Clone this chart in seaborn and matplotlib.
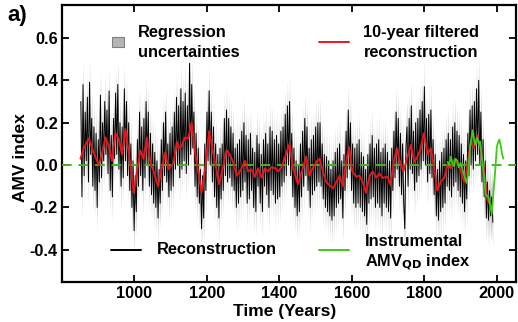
import numpy as np
import pandas as pd
import matplotlib
matplotlib.use("Agg")
import matplotlib.pyplot as plt
from matplotlib.patches import Rectangle
import seaborn as sns

# ========== DATA ==========
# annual reconstruction, read every 3 years (852 .. 1989)
recon_years = list(range(852, 1990, 3))
recon_values = [
    0.30, -0.15, 0.38, -0.05, 0.25, 0.02, 0.32, -0.08, 0.39, 0.05,
    0.22, -0.10, 0.18, -0.12, 0.15, -0.20, 0.12, -0.08, 0.33, -0.06,
    0.20, 0.02, 0.30, 0.05, 0.26, -0.04, 0.35, -0.12, 0.14, -0.15,
    0.22, 0.03, 0.34, 0.05, 0.38, -0.02, 0.20, -0.10, 0.18, -0.06,
    0.36, 0.02, 0.30, -0.05, 0.20, -0.12, 0.10, -0.20, 0.02, -0.31,
    -0.05, -0.22, 0.12, -0.10, 0.25, -0.05, 0.18, -0.12, 0.22, -0.06,
    0.30, 0.00, 0.25, -0.10, 0.15, -0.14, 0.10, -0.18, 0.06, -0.20,
    0.02, -0.25, -0.02, -0.18, 0.12, -0.12, 0.20, -0.05, 0.25, -0.08,
    0.10, -0.15, 0.15, -0.12, 0.18, -0.10, 0.25, -0.02, 0.32, 0.00,
    0.28, -0.06, 0.36, -0.02, 0.30, 0.02, 0.34, -0.04, 0.28, 0.00,
    0.48, 0.05, 0.38, 0.08, 0.25, -0.10, 0.15, -0.15, 0.08, -0.18,
    -0.02, -0.30, -0.05, -0.25, 0.10, -0.12, 0.25, 0.02, 0.35, 0.00,
    0.25, -0.08, 0.18, -0.15, 0.10, -0.20, 0.05, -0.25, 0.08, -0.16,
    0.10, -0.12, 0.22, -0.05, 0.26, -0.08, 0.22, -0.06, 0.18, -0.10,
    0.15, -0.12, 0.08, -0.20, 0.10, -0.18, 0.12, -0.15, 0.16, -0.12,
    0.20, -0.08, 0.14, -0.18, 0.12, -0.16, 0.15, -0.12, 0.08, -0.20,
    0.06, -0.22, 0.14, -0.10, 0.10, -0.18, 0.05, -0.22, 0.12, -0.10,
    0.15, -0.14, 0.10, -0.20, 0.18, -0.12, 0.16, -0.14, 0.12, -0.18,
    0.14, -0.16, 0.10, -0.15, 0.16, -0.10, 0.18, -0.08, 0.24, -0.05,
    0.28, 0.00, 0.30, -0.05, 0.15, -0.15, 0.08, -0.20, 0.02, -0.24,
    0.00, -0.22, 0.10, -0.15, 0.16, -0.10, 0.22, -0.05, 0.18, -0.12,
    0.08, -0.20, 0.12, -0.14, 0.14, -0.12, 0.18, -0.10, 0.20, -0.08,
    0.20, -0.10, 0.10, -0.16, 0.05, -0.20, 0.04, -0.22, 0.02, -0.24,
    -0.02, -0.26, 0.02, -0.24, 0.06, -0.20, 0.08, -0.18, 0.10, -0.16,
    0.02, -0.25, 0.05, -0.12, 0.16, -0.06, 0.26, -0.02, 0.20, -0.12,
    0.10, -0.18, 0.08, -0.20, 0.10, -0.18, 0.12, -0.20, 0.06, -0.22,
    0.04, -0.24, -0.02, -0.28, 0.05, -0.18, 0.10, -0.16, 0.14, -0.15,
    0.08, -0.20, 0.10, -0.18, 0.12, -0.20, 0.06, -0.24, 0.08, -0.18,
    0.10, -0.20, 0.06, -0.22, 0.02, -0.25, 0.08, -0.12, 0.16, -0.06,
    0.25, -0.02, 0.22, -0.10, 0.15, -0.14, 0.10, -0.18, -0.30, 0.08,
    0.18, -0.10, 0.22, -0.02, 0.28, -0.04, 0.16, -0.12, 0.20, -0.08,
    0.22, -0.05, 0.26, -0.02, 0.30, 0.02, 0.37, 0.00, 0.22, -0.08,
    0.24, -0.04, 0.26, -0.06, 0.12, -0.14, 0.05, -0.24, -0.02, -0.26,
    0.02, -0.22, 0.06, -0.20, 0.08, -0.18, 0.12, -0.10, 0.15, -0.12,
    0.12, -0.15, 0.18, -0.10, 0.20, -0.08, 0.16, -0.12, 0.14, -0.15,
    0.10, -0.18, 0.05, -0.22, 0.02, -0.16, 0.15, -0.05, 0.26, 0.00,
    0.28, -0.02, 0.30, 0.02, 0.36, 0.05, 0.40, 0.00, 0.25, -0.08,
    0.12, -0.15, 0.02, -0.25, -0.08, -0.26, -0.12, -0.24, -0.15, -0.27,
]
uncertainty = 0.12

# 10-year filtered reconstruction
filt_years = [
    851, 860, 874, 883, 892, 901, 910, 920, 929, 938, 947, 956, 966, 975,
    984, 991, 998, 1007, 1016, 1025, 1034, 1044, 1053, 1065, 1076, 1085,
    1094, 1108, 1117, 1121, 1130, 1139, 1148, 1158, 1167, 1176, 1185, 1194,
    1206, 1217, 1227, 1233, 1242, 1254, 1263, 1273, 1282, 1291, 1305, 1314,
    1323, 1332, 1341, 1351, 1360, 1369, 1378, 1388, 1397, 1406, 1419, 1428,
    1437, 1451, 1462, 1474, 1483, 1492, 1502, 1511, 1520, 1529, 1538, 1548,
    1557, 1566, 1575, 1584, 1592, 1601, 1612, 1621, 1630, 1639, 1649, 1658,
    1667, 1676, 1685, 1698, 1707, 1715, 1724, 1733, 1742, 1752, 1763, 1772,
    1781, 1790, 1799, 1809, 1818, 1827, 1836, 1845, 1855, 1864, 1873, 1882,
    1891, 1900, 1910, 1919, 1928, 1937, 1946, 1956, 1965, 1974, 1983,
]
filt_values = [
    0.03, 0.08, 0.125, 0.08, 0.04, 0.0, 0.05, 0.13, 0.09, 0.02, 0.15, 0.125,
    0.05, 0.17, 0.06, -0.03, -0.13, -0.03, 0.07, 0.03, 0.13, 0.01, -0.03,
    -0.10, -0.01, 0.06, -0.02, 0.01, 0.11, 0.08, 0.09, 0.13, 0.125, 0.20,
    0.06, -0.03, -0.13, -0.03, 0.16, 0.06, -0.03, -0.09, -0.03, 0.07, 0.05,
    0.01, -0.05, -0.03, 0.02, -0.03, -0.02, -0.055, -0.015, -0.06, -0.015,
    -0.03, -0.01, -0.015, -0.03, -0.01, 0.055, 0.10, -0.01, -0.09, -0.03,
    0.04, -0.05, -0.015, 0.015, 0.03, -0.03, -0.08, -0.095, -0.11, -0.08,
    -0.05, -0.10, 0.015, 0.085, -0.03, -0.055, -0.05, -0.08, -0.13, -0.05,
    -0.03, -0.06, -0.04, -0.06, -0.055, -0.095, 0.01, 0.08, 0.01, -0.03,
    0.03, 0.095, 0.015, 0.04, 0.08, 0.15, 0.05, 0.08, -0.015, -0.12, -0.08,
    -0.06, 0.0, -0.015, 0.025, 0.01, -0.025, -0.08, 0.0, 0.11, 0.08, 0.14,
    0.07, -0.03, -0.165, -0.19,
]

# instrumental AMV_QD index
instr_years = [
    1864, 1868, 1873, 1877, 1882, 1886, 1891, 1895, 1900, 1905, 1910, 1917,
    1922, 1926, 1933, 1939, 1946, 1950, 1954, 1960, 1965, 1969, 1977, 1982,
    1986, 1991, 1995, 2000, 2004, 2007, 2011, 2014, 2018,
]
instr_values = [
    0.015, 0.0, 0.04, 0.01, -0.005, 0.03, 0.02, -0.01, 0.01, -0.02, -0.05,
    -0.085, -0.02, 0.08, 0.165, 0.095, 0.13, 0.10, 0.11, 0.015, -0.06, -0.14,
    -0.15, -0.19, -0.23, -0.12, -0.04, 0.086, 0.11, 0.12, 0.09, 0.055, 0.03,
]

recon = pd.DataFrame({"Year": recon_years, "AMV": recon_values})
filt = pd.DataFrame({"Year": filt_years, "AMV": filt_values})
instr = pd.DataFrame({"Year": instr_years, "AMV": instr_values})

# ========== PLOT ==========
sns.set_style("ticks")
plt.rcParams["font.family"] = ["Liberation Sans", "DejaVu Sans"]
plt.rcParams["font.weight"] = "bold"
plt.rcParams["text.color"] = "black"
plt.rcParams["axes.labelcolor"] = "black"
plt.rcParams["axes.edgecolor"] = "black"
plt.rcParams["xtick.color"] = "black"
plt.rcParams["ytick.color"] = "black"

fig = plt.figure(figsize=(5.18, 3.22), dpi=100)
ax = fig.add_axes([0.1197, 0.1252, 0.8765, 0.8593])

ax.fill_between(recon["Year"], recon["AMV"] - uncertainty, recon["AMV"] + uncertainty,
                color="#8c8c8c", alpha=0.4, lw=0)
sns.lineplot(data=recon, x="Year", y="AMV", ax=ax, color="black", lw=0.7)
ax.axhline(0, color="#46b41e", ls="--", lw=1.4, dashes=(5, 3.5), zorder=3)
sns.lineplot(data=filt, x="Year", y="AMV", ax=ax, color="#e8161c", lw=1.4, zorder=4)
sns.lineplot(data=instr, x="Year", y="AMV", ax=ax, color="#3ccc14", lw=1.3, zorder=5)

ax.set_xlim(800, 2053)
ax.set_ylim(-0.55, 0.755)
ax.set_xticks([1000, 1200, 1400, 1600, 1800, 2000])
ax.set_yticks([-0.4, -0.2, 0.0, 0.2, 0.4, 0.6])
ax.set_yticklabels(["-0.4", "-0.2", "0.0", "0.2", "0.4", "0.6"])
ax.tick_params(direction="in", top=True, right=True, length=5, width=1.3,
               labelsize=11.8, pad=3)
for lab in ax.get_xticklabels() + ax.get_yticklabels():
    lab.set_fontweight("bold")
for sp in ax.spines.values():
    sp.set_visible(True)
    sp.set_linewidth(1.6)

ax.set_xlabel("Time (Years)", fontsize=12.5, fontweight="bold")
ax.set_ylabel("AMV index", fontsize=12.5, fontweight="bold")
ax.xaxis.set_label_coords(0.491, -0.108)
ax.yaxis.set_label_coords(-0.0925, 0.447)
ax.xaxis.label.set_va("center")
ax.yaxis.label.set_va("center")
fig.text(0.033, 0.953, "a)", fontsize=16, fontweight="bold", ha="center", va="center")

# legend keys, placed like the original
tr = ax.transAxes
ax.add_patch(Rectangle((0.110, 0.848), 0.026, 0.036, transform=tr,
                       facecolor="#b4b4b4", edgecolor="#808080", lw=0.8))
ax.text(0.167, 0.863, "Regression\nuncertainties", transform=tr, fontsize=11.8,
        fontweight="bold", va="center", linespacing=1.4)
ax.plot([0.565, 0.633], [0.867, 0.867], transform=tr, color="#e8161c", lw=1.4)
ax.text(0.664, 0.863, "10-year filtered\nreconstruction", transform=tr,
        fontsize=11.8, fontweight="bold", va="center", linespacing=1.4)
ax.plot([0.109, 0.175], [0.1146, 0.1146], transform=tr, color="black", lw=1.4)
ax.text(0.2086, 0.1146, "Reconstruction", transform=tr, fontsize=11.8,
        fontweight="bold", va="center")
ax.plot([0.565, 0.633], [0.1146, 0.1146], transform=tr, color="#3ccc14", lw=1.4)
ax.text(0.668, 0.1026, "Instrumental\nAMV$_{\\mathbf{QD}}$ index", transform=tr,
        fontsize=11.8, fontweight="bold", va="center", linespacing=1.3)

plt.savefig("out.png", dpi=100)
